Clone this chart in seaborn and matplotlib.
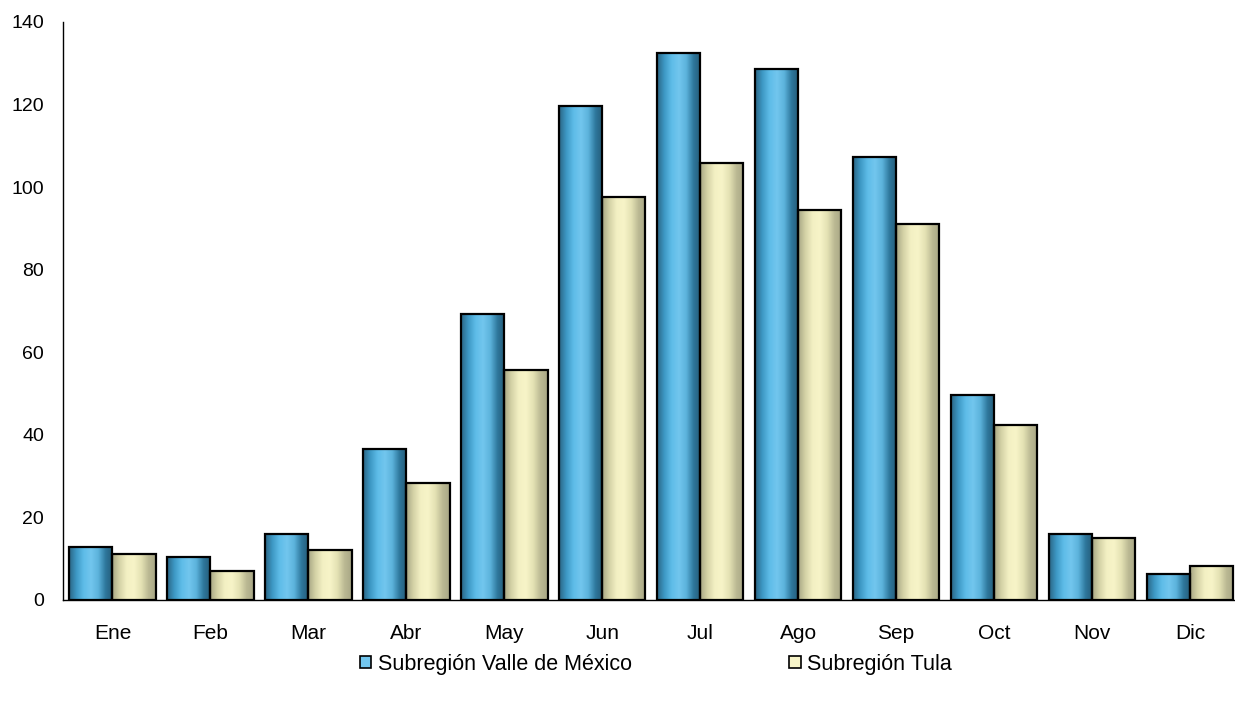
import numpy as np
import pandas as pd
import matplotlib
matplotlib.use("Agg")
import matplotlib.pyplot as plt
import seaborn as sns
from matplotlib.colors import LinearSegmentedColormap
from matplotlib.patches import Patch

meses = ["Ene", "Feb", "Mar", "Abr", "May", "Jun", "Jul", "Ago", "Sep", "Oct", "Nov", "Dic"]
valle_mexico = [12.8, 10.3, 16.0, 36.6, 69.2, 119.6, 132.5, 128.6, 107.2, 49.6, 16.0, 6.3]
tula = [11.1, 7.0, 12.1, 28.3, 55.7, 97.5, 105.8, 94.5, 91.1, 42.4, 15.0, 8.2]
series = ["Subregión Valle de México", "Subregión Tula"]
y_ticks = [0, 20, 40, 60, 80, 100, 120, 140]

df = pd.DataFrame({
    "mes": meses * 2,
    "valor": valle_mexico + tula,
    "serie": [series[0]] * len(meses) + [series[1]] * len(meses),
})

sns.set_style("white")
plt.rcParams["font.family"] = ["Liberation Sans", "DejaVu Sans"]
plt.rcParams["text.color"] = "black"
plt.rcParams["xtick.color"] = "black"
plt.rcParams["ytick.color"] = "black"

fig = plt.figure(figsize=(12.35, 7.05), dpi=100)
ax = fig.add_axes([0.0514, 0.149, 0.9486, 0.82])

base_colors = {series[0]: "#5bb8e4", series[1]: "#efedc0"}
sns.barplot(data=df, x="mes", y="valor", hue="serie", order=meses, hue_order=series,
            palette=base_colors, width=0.883, saturation=1, edgecolor="black",
            linewidth=1.6, legend=False, ax=ax, errorbar=None)

cmaps = {
    series[0]: LinearSegmentedColormap.from_list(
        "b", ["#2a6483", "#3d98c4", "#5ebce8", "#72c6ee", "#5cb3dc", "#2e779c", "#265b78"]),
    series[1]: LinearSegmentedColormap.from_list(
        "t", ["#a6a584", "#d4d2a6", "#f3f0c3", "#f7f4c8", "#e4e2b4", "#bbb993", "#a7a685"]),
}

XL = (-0.5, 11.46)
ax.set_xlim(*XL)
ax.set_ylim(0, 140)
grad = np.linspace(0, 1, 256).reshape(1, -1)
n = len(meses)
for i, p in enumerate(ax.patches[:2 * n]):
    s = series[0] if i < n else series[1]
    x0, w, h = p.get_x(), p.get_width(), p.get_height()
    im = ax.imshow(grad, cmap=cmaps[s], aspect="auto", extent=[x0, x0 + w, 0, h],
                   zorder=p.get_zorder() + 0.1, interpolation="bilinear")
    im.set_clip_path(p)
    p.set_facecolor("none")
    p.set_zorder(p.get_zorder() + 0.2)
ax.set_xlim(*XL)
ax.set_ylim(0, 140)

ax.set_yticks(y_ticks)
ax.set_xticks(range(n))
ax.set_xticklabels(meses)
ax.set_xticks(np.arange(-0.5, n - 1, 1.0), minor=True)
ax.tick_params(axis="x", which="major", length=0, pad=17, labelsize=15)
ax.tick_params(axis="x", which="minor", length=5, width=1, direction="out", color="black")
ax.tick_params(axis="y", length=5, width=1, direction="out", color="black", labelsize=14, pad=9)
ax.set_xlabel("")
ax.set_ylabel("")
for side in ["top", "right"]:
    ax.spines[side].set_visible(False)
for side in ["left", "bottom"]:
    ax.spines[side].set_color("black")
    ax.spines[side].set_linewidth(1)

handles = [Patch(facecolor=cmaps[s](0.5), edgecolor="black", linewidth=1.2) for s in series]
fig.legend(handles, series, loc="center", bbox_to_anchor=(0.531, 0.058), ncol=2,
           frameon=False, fontsize=15.5, handlelength=0.55, handleheight=0.55,
           handletextpad=0.3, columnspacing=7.3)

fig.savefig("out.png", dpi=100)
